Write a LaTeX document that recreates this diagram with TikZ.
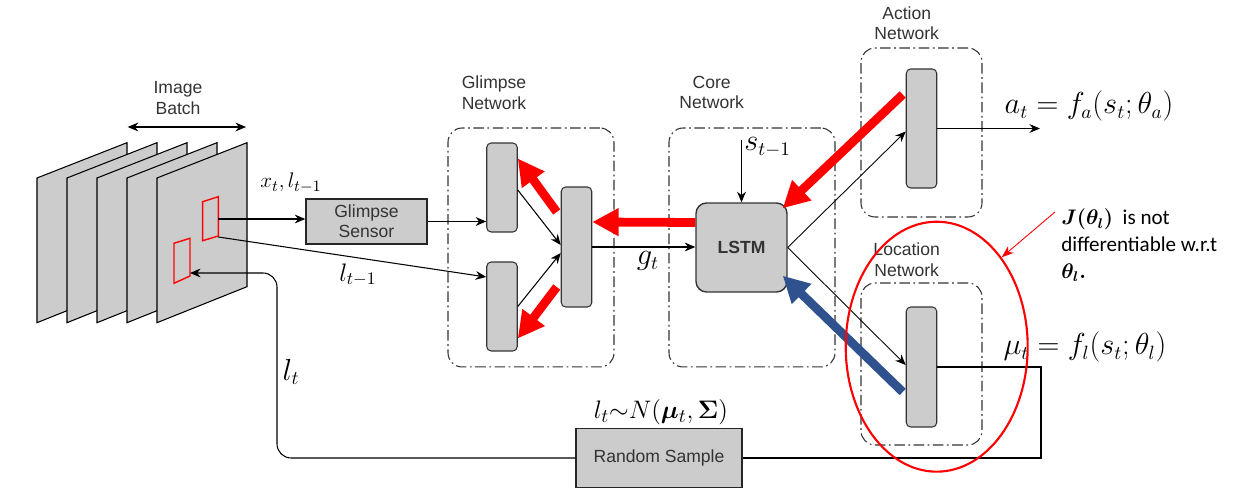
\documentclass[tikz,border=0pt]{standalone}
\usepackage{amsmath}
\usepackage{bm}
\usepackage{fontspec}
\setsansfont{Liberation Sans}
\newfontfamily\calib{Carlito}
\usetikzlibrary{arrows.meta,shapes.geometric,calc}
\definecolor{boxgray}{HTML}{CCCCCC}
\definecolor{txtgray}{HTML}{333333}
\definecolor{bluearr}{HTML}{2F528F}
\tikzset{
  netlbl/.style={font=\sffamily\fontsize{10}{11.5}\selectfont, text=txtgray, align=center, inner sep=0},
  grect/.style={draw=txtgray, fill=boxgray, rounded corners=2.5pt, line width=0.6pt, inner sep=0, minimum width=0.61cm},
  netbox/.style={draw=txtgray, dash pattern=on 6pt off 2pt on 1pt off 2pt, rounded corners=8pt, line width=0.6pt, inner sep=0},
  sqbox/.style={draw=black!85, fill=boxgray, line width=0.8pt, font=\sffamily\fontsize{10}{11.5}\selectfont, text=txtgray, align=center, inner sep=0},
  arr/.style={-{Stealth[length=6pt,width=5pt]}, line width=0.6pt},
  redarr/.style={-{Triangle[length=15pt,width=15pt]}, line width=5pt, draw=red},
  bluearrow/.style={-{Triangle[length=15pt,width=15pt]}, line width=5pt, draw=bluearr},
  smath/.style={inner sep=0, font=\fontsize{14}{16}\selectfont},
  bmath/.style={inner sep=0, font=\fontsize{16}{19}\selectfont},
  sheet/.style={draw=black, fill=boxgray, line width=0.6pt},
  glim/.style={draw=red, line width=0.8pt}
}
\begin{document}
\begin{tikzpicture}[x=0.02cm,y=-0.02cm]
\useasboundingbox (0,0) rectangle (1245,502);

% image batch sheets
\foreach \i in {0,...,4}{
  \draw[sheet] ({37+30*\i},178) -- ({127+30*\i},142.7) -- ({127+30*\i},286.7) -- ({37+30*\i},322.7) -- cycle;
}
\draw[glim] (202.7,201.7) -- (218.3,196.7) -- (218.3,236) -- (202.7,240.7) -- cycle;
\draw[glim] (174,243.3) -- (190,238.3) -- (190,276) -- (174,283.3) -- cycle;
\coordinate (r1e) at (218.3,219);
\coordinate (r1b) at (218.3,237);
\coordinate (r2e) at (190,273);
\coordinate (ibl) at (127.7,127);
\coordinate (ibr) at (246,127);
\draw[{Stealth[length=6pt,width=5pt]}-{Stealth[length=6pt,width=5pt]}, line width=0.6pt] (ibl) -- (ibr);
\node[netlbl] (iblbl) at (178,98) {Image\\Batch};

% glimpse sensor
\node[sqbox, minimum width=2.42cm, minimum height=0.9cm] (gs) at (366.5,221.5) {Glimpse\\Sensor};
\node[smath, font=\fontsize{13}{15}\selectfont] (lxt) at (291,183) {$x_t,l_{t-1}$};
\node[smath] (llt1) at (358,275) {$l_{t-1}$};

% glimpse network
\node[netbox, minimum width=3.32cm, minimum height=4.78cm] (gnet) at (531,247.5) {};
\node[netlbl] (gnetlbl) at (494,92.7) {Glimpse\\Network};
\node[grect, minimum height=1.78cm] (gu) at (502,187.5) {};
\node[grect, minimum height=1.78cm] (gl) at (502,306.5) {};
\node[grect, minimum height=2.4cm] (gm) at (576.5,247) {};

% core network
\node[netbox, minimum width=3.32cm, minimum height=4.78cm] (cnet) at (752,247.5) {};
\node[netlbl] (cnetlbl) at (711.7,92.7) {Core\\Network};
\node[draw=txtgray, fill=boxgray, rounded corners=6pt, line width=0.8pt, minimum width=1.82cm, minimum height=1.78cm, font=\sffamily\bfseries\fontsize{10}{12}\selectfont, text=txtgray] (lstm) at (741.5,247.5) {LSTM};
\coordinate (sin) at (741.5,140);
\node[smath, anchor=west, font=\fontsize{16}{18}\selectfont] (lst1) at (744,147) {$s_{t-1}$};

% action network
\node[netbox, minimum width=2.42cm, minimum height=3.38cm] (anet) at (921.5,132.5) {};
\node[netlbl] (anetlbl) at (906.7,23) {Action\\Network};
\node[grect, minimum height=2.38cm] (arect) at (921.5,128.5) {};
\coordinate (aout) at (1040,128.5);
\node[bmath] (alab) at (1089,106) {$a_t = f_a(s_t;\theta_a)$};

% location network
\node[netbox, minimum width=2.42cm, minimum height=3.24cm] (lnet) at (921.5,364) {};
\node[netlbl] (lnetlbl) at (906.7,259.7) {Location\\Network};
\node[grect, minimum height=2.4cm] (lrect) at (921.5,367) {};
\node[bmath] (mulab) at (1085,347) {$\mu_t = f_l(s_t;\theta_l)$};

% random sample
\node[sqbox, minimum width=3.32cm, minimum height=1.18cm] (rs) at (659,458) {Random Sample};
\node[inner sep=0, font=\fontsize{15}{18}\selectfont] (nlab) at (661,412) {$l_t{\sim}N(\bm{\mu}_t,\bm{\Sigma})$};
\node[smath, font=\fontsize{16}{18}\selectfont] (ltlab) at (291,372) {$l_t$};
\coordinate (o1) at (1041,367);
\coordinate (o2) at (1041,458);
\coordinate (c1) at (277,458);
\coordinate (c2) at (277,273);

% thin connectors
\draw[arr] (r1e) -- (gs.west |- r1e);
\draw[arr] (gs.east) -- (gs.east -| gu.west);
\draw[arr] (r1b) -- ($(gl.west)+(0,-29.5)$);
\draw[arr] ($(gu.east)+(0,2.5)$) -- ($(gm.west)+(0,-2)$);
\draw[arr] (gl.east) -- ($(gm.west)+(0,6)$);
\draw[arr] (gm.east) -- (gm.east -| lstm.west);
\node[smath, font=\fontsize{16}{18}\selectfont] (gtlab) at (648,261) {$g_t$};
\draw[arr] (sin) -- (lstm.north);
\draw[line width=0.5pt, -{Stealth[length=6pt,width=5pt]}] (lstm.east) -- ($(arect.west)+(0,3)$);
\draw[line width=0.5pt, -{Stealth[length=6pt,width=5pt]}] (lstm.east) -- ($(lrect.west)+(0,-2)$);
\draw[arr] (arect.east) -- (aout);
\draw[line width=0.6pt] (lrect.east) -- (o1) -- (o2) -- (rs.east);
\draw[arr, rounded corners=8pt] (rs.west) -- (c1) -- (c2) -- (r2e);

% thick feedback arrows
\draw[redarr] ($(gm.west)+(-4,-35)$) -- ($(gu.east)+(0,-29)$);
\draw[redarr] ($(gm.west)+(-4,40)$) -- ($(gl.east)+(0,32)$);
\draw[redarr] ($(lstm.west)+(0,-25)$) -- ($(gm.east)+(0,-25)$);
\draw[redarr] ($(arect.west)+(-3,-34)$) -- ($(lstm.north east)+(-5,6)$);
\draw[bluearrow] ($(lrect.west)+(-3,25)$) -- ($(lstm.south east)+(-5,-17)$);

% annotation
\node[draw=red, line width=1.2pt, ellipse, minimum width=3.64cm, minimum height=5cm, inner sep=0] (ell) at (936.7,346.7) {};
\node[anchor=west, align=left, inner sep=0, font=\calib\fontsize{12}{15.3}\selectfont] (note) at (1061,245.5) {$\bm{J(\theta_l)}$~~is not\\differentiable w.r.t\\$\bm{\theta_l.}$};
\coordinate (nst) at (1055,212);
\draw[red, line width=0.5pt, -{Stealth[length=7pt,width=5pt]}] (nst) -- (ell.54);
\end{tikzpicture}
\end{document}
